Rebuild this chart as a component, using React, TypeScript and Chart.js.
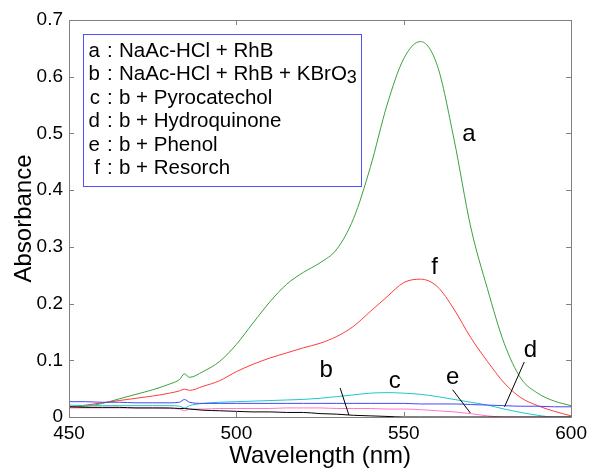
import React, { useEffect, useRef } from "react";
import { Chart, registerables } from "chart.js";

Chart.register(...registerables);

const wavelengths = [450, 455, 460, 465, 470, 475, 480, 483, 484.5, 486, 490, 495, 500, 505, 510, 515, 520, 525, 530, 535, 540, 545, 550, 555, 560, 565, 570, 575, 580, 585, 590, 595, 600];

const seriesA = [0.018, 0.019, 0.024, 0.032, 0.040, 0.048, 0.058, 0.066, 0.076, 0.070, 0.080, 0.098, 0.128, 0.166, 0.203, 0.234, 0.255, 0.272, 0.296, 0.350, 0.440, 0.550, 0.632, 0.662, 0.620, 0.490, 0.335, 0.226, 0.130, 0.068, 0.042, 0.028, 0.020];
const seriesF = [0.017, 0.021, 0.025, 0.029, 0.033, 0.037, 0.042, 0.046, 0.049, 0.047, 0.054, 0.064, 0.080, 0.093, 0.104, 0.113, 0.122, 0.130, 0.142, 0.160, 0.186, 0.212, 0.237, 0.243, 0.230, 0.190, 0.140, 0.098, 0.060, 0.034, 0.020, 0.010, 0.002];
const seriesC = [0.021, 0.020, 0.020, 0.020, 0.020, 0.020, 0.020, 0.019, 0.016, 0.020, 0.024, 0.026, 0.027, 0.028, 0.029, 0.030, 0.031, 0.033, 0.036, 0.039, 0.042, 0.043, 0.042, 0.040, 0.036, 0.031, 0.026, 0.021, 0.014, 0.008, 0.003, 0.000, 0.000];
const seriesD = [0.027, 0.027, 0.026, 0.026, 0.025, 0.025, 0.025, 0.026, 0.031, 0.026, 0.024, 0.024, 0.024, 0.024, 0.024, 0.024, 0.024, 0.024, 0.024, 0.024, 0.024, 0.024, 0.024, 0.023, 0.023, 0.023, 0.022, 0.021, 0.020, 0.019, 0.019, 0.018, 0.018];
const seriesE = [0.016, 0.016, 0.016, 0.016, 0.016, 0.016, 0.015, 0.014, 0.011, 0.014, 0.014, 0.015, 0.015, 0.015, 0.015, 0.016, 0.016, 0.016, 0.015, 0.015, 0.015, 0.014, 0.014, 0.013, 0.011, 0.009, 0.006, 0.002, 0.000, 0.000, 0.000, 0.000, 0.000];
const seriesB = [0.018, 0.017, 0.017, 0.017, 0.016, 0.016, 0.016, 0.015, 0.015, 0.014, 0.012, 0.011, 0.010, 0.009, 0.009, 0.008, 0.008, 0.006, 0.005, 0.003, 0.002, 0.001, 0.000, 0, 0, 0, 0, 0, 0, 0, 0, 0, 0];

const xTicks = [450, 500, 550, 600];
const yTicks = [0, 0.1, 0.2, 0.3, 0.4, 0.5, 0.6, 0.7];

const legendLetters = ["a", "b", "c", "d", "e", "f"];
const legendTexts = [
  "NaAc-HCl + RhB",
  "NaAc-HCl + RhB + KBrO",
  "b + Pyrocatechol",
  "b + Hydroquinone",
  "b + Phenol",
  "b + Resorch",
];
const legendSubscripts = ["", "3", "", "", "", ""];

// curve labels in data coordinates (wavelength, absorbance)
const curveLabelText = ["a", "f", "b", "c", "e", "d"];
const curveLabelX = [569.5, 559.2, 526.8, 547.3, 564.6, 587.8];
const curveLabelY = [0.498, 0.263, 0.083, 0.062, 0.069, 0.118];

// leader lines in data coordinates
const leaderX1 = [531.0, 564.6, 586.0];
const leaderY1 = [0.051, 0.048, 0.097];
const leaderX2 = [533.6, 569.9, 580.1];
const leaderY2 = [0.0035, 0.007, 0.018];

const FONT = "'Liberation Sans', Arial, Helvetica, sans-serif";

const mk = (label: string, vals: number[], color: string) => ({
  label,
  data: wavelengths.map((w, i) => ({ x: w, y: vals[i] })),
  borderColor: color,
  backgroundColor: color,
  borderWidth: 1,
  pointRadius: 0,
  cubicInterpolationMode: "monotone" as const,
  fill: false,
});

const decorPlugin = {
  id: "decor",
  afterDatasetsDraw(chart: any) {
    const { ctx, chartArea, scales } = chart;
    const xs = scales.x;
    const ys = scales.y;
    const { left, right, top, bottom } = chartArea;
    ctx.save();
    // frame
    ctx.strokeStyle = "#808080";
    ctx.lineWidth = 1;
    ctx.beginPath();
    ctx.rect(Math.round(left) + 0.5, Math.round(top) + 0.5, Math.round(right - left), Math.round(bottom - top));
    ctx.stroke();
    // inward ticks
    ctx.beginPath();
    xTicks.forEach((v) => {
      const px = Math.round(xs.getPixelForValue(v)) + 0.5;
      ctx.moveTo(px, bottom);
      ctx.lineTo(px, bottom - 5);
      ctx.moveTo(px, top);
      ctx.lineTo(px, top + 5);
    });
    yTicks.forEach((v) => {
      const py = Math.round(ys.getPixelForValue(v)) + 0.5;
      ctx.moveTo(left, py);
      ctx.lineTo(left + 5, py);
      ctx.moveTo(right, py);
      ctx.lineTo(right - 5, py);
    });
    ctx.stroke();

    // legend box
    const bx = left + 14;
    const by = top + 14;
    ctx.strokeStyle = "rgb(80,80,255)";
    ctx.strokeRect(Math.round(bx) + 0.5, Math.round(by) + 0.5, 278, 152);
    ctx.fillStyle = "#000";
    ctx.textBaseline = "alphabetic";
    legendLetters.forEach((letter, i) => {
      const base = by + 23 + i * 23.4;
      ctx.font = `20.5px ${FONT}`;
      ctx.textAlign = "right";
      ctx.fillText(letter, bx + 17, base);
      ctx.textAlign = "left";
      ctx.fillText(":", bx + 24, base);
      ctx.fillText(legendTexts[i], bx + 36, base);
      if (legendSubscripts[i]) {
        const w = ctx.measureText(legendTexts[i]).width;
        ctx.font = `18px ${FONT}`;
        ctx.fillText(legendSubscripts[i], bx + 36 + w, base + 3);
      }
    });

    // curve labels
    ctx.font = `24px ${FONT}`;
    ctx.textAlign = "center";
    ctx.textBaseline = "middle";
    curveLabelText.forEach((t, i) => {
      ctx.fillText(t, xs.getPixelForValue(curveLabelX[i]), ys.getPixelForValue(curveLabelY[i]));
    });
    // leader lines
    ctx.strokeStyle = "#000";
    ctx.beginPath();
    leaderX1.forEach((_, i) => {
      ctx.moveTo(xs.getPixelForValue(leaderX1[i]), ys.getPixelForValue(leaderY1[i]));
      ctx.lineTo(xs.getPixelForValue(leaderX2[i]), ys.getPixelForValue(leaderY2[i]));
    });
    ctx.stroke();
    ctx.restore();
  },
};

export default function App() {
  const ref = useRef<HTMLCanvasElement | null>(null);
  useEffect(() => {
    if (!ref.current) return;
    const chart = new Chart(ref.current, {
      type: "line",
      data: {
        datasets: [
          mk("b", seriesB, "#000000"),
          mk("e", seriesE, "rgb(255,120,200)"),
          mk("d", seriesD, "rgb(70,70,255)"),
          mk("c", seriesC, "rgb(30,200,200)"),
          mk("f", seriesF, "rgb(255,60,60)"),
          mk("a", seriesA, "rgb(60,160,60)"),
        ],
      },
      options: {
        animation: false,
        responsive: false,
        maintainAspectRatio: false,
        layout: { padding: { top: 20, right: 18, left: 0, bottom: 0 } },
        plugins: { legend: { display: false }, tooltip: { enabled: false } },
        scales: {
          x: {
            type: "linear",
            min: 450,
            max: 600,
            grid: { display: false, drawTicks: false },
            border: { display: false },
            afterBuildTicks: (s: any) => {
              s.ticks = xTicks.map((v) => ({ value: v }));
            },
            afterFit: (s: any) => {
              s.height = 51;
            },
            ticks: {
              padding: 5,
              color: "#000",
              font: { family: FONT, size: 19 },
              maxRotation: 0,
              callback: (v: any) => String(v),
            },
            title: {
              display: true,
              text: "Wavelength (nm)",
              color: "#000",
              font: { family: FONT, size: 24, lineHeight: 1 },
              padding: { top: 0, bottom: 0 },
            },
          },
          y: {
            type: "linear",
            min: 0,
            max: 0.7,
            grid: { display: false, drawTicks: false },
            border: { display: false },
            afterBuildTicks: (s: any) => {
              s.ticks = yTicks.map((v) => ({ value: v }));
            },
            afterFit: (s: any) => {
              s.width = 69;
            },
            ticks: {
              padding: 6,
              color: "#000",
              font: { family: FONT, size: 19 },
              callback: (v: any) => String(Number(Number(v).toFixed(1))),
            },
            title: {
              display: true,
              text: "Absorbance",
              color: "#000",
              font: { family: FONT, size: 24, lineHeight: 1 },
              padding: { top: 12, bottom: 0 },
            },
          },
        },
      },
      plugins: [decorPlugin],
    });
    return () => chart.destroy();
  }, []);
  return (
    <div style={{ position: "absolute", left: 0, top: 0, width: 592, height: 468, background: "#fff" }}>
      <canvas ref={ref} width={592} height={468} />
    </div>
  );
}
